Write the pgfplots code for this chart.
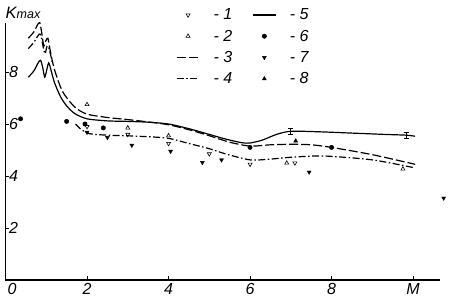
\documentclass[border=0pt]{standalone}
\usepackage{pgfplots}
\pgfplotsset{compat=1.18}
\usepackage{fontspec}
\setmainfont{Liberation Sans}
\begin{document}
\begin{tikzpicture}
\path[use as bounding box] (-5.5pt,-20pt) rectangle (444.5pt,280pt);
\begin{axis}[
  scale only axis, width=434.5pt, height=257.4pt,
  xmin=0, xmax=10.66, ymin=0, ymax=9.9,
  axis lines=left, axis line style={-, line width=1.5pt},
  clip=false,
  xtick={0,2,4,6,8,10},
  xticklabels={\makebox[0pt][l]{\hspace{2pt}0},2,4,6,8,M},
  ytick={2,4,6,8},
  tick align=inside, major tick length=4pt, tick style={line width=1pt, black},
  /pgf/number format/assume math mode=true,
  ticklabel style={font=\fontsize{16}{16}\selectfont\itshape},
  yticklabel style={anchor=west, xshift=0pt},
  ylabel={K{\fontsize{12.5}{12}\selectfont max}},
  ylabel style={rotate=-90, at={(rel axis cs:0,1)}, anchor=base west, yshift=4pt, inner sep=0pt, font=\fontsize{16.5}{16}\selectfont\itshape},
  legend columns=2,
  legend cell align=left,
  legend style={draw=none, fill=none, at={(rel axis cs:0.385,1.07)}, anchor=north west,
    font=\fontsize{16}{16}\selectfont\itshape,
    /tikz/every even column/.append style={column sep=18pt},
    row sep=4.6pt},
  legend image code/.code={\path[draw=none, fill=none] (0pt,0pt) -- (35pt,0pt);\draw[mark repeat=2,mark phase=2,#1] plot coordinates {(0pt,0pt) (11.5pt,0pt) (23pt,0pt)};},
]
\addlegendimage{black, only marks, mark=triangle, mark options={rotate=180, fill=white, line width=0.6pt}, mark size=2.3pt}
\addlegendentry{- 1}
\addlegendimage{black, line width=1.2pt}
\addlegendentry{- 5}
\addlegendimage{black, only marks, mark=triangle, mark options={fill=white, line width=0.6pt}, mark size=2.3pt}
\addlegendentry{- 2}
\addlegendimage{black, only marks, mark=*, mark size=2.2pt}
\addlegendentry{- 6}
\addlegendimage{black, line width=1.2pt, dash pattern=on 9pt off 3pt}
\addlegendentry{- 3}
\addlegendimage{black, only marks, mark=triangle*, mark options={rotate=180}, mark size=2.3pt}
\addlegendentry{- 7}
\addlegendimage{black, line width=1.2pt, dash pattern=on 7pt off 2.5pt on 1.5pt off 2.5pt}
\addlegendentry{- 4}
\addlegendimage{black, only marks, mark=triangle*, mark size=2.3pt}
\addlegendentry{- 8}

% curve 5 (solid)
\addplot[black, line width=1.2pt, smooth, tension=0.45, forget plot] coordinates {
(0.56,7.8) (0.7,8.05) (0.8,8.35) (0.86,8.45) (0.91,8.2) (0.96,7.8) (1.0,8.0) (1.06,8.35) (1.12,8.05) (1.2,7.6) (1.35,7.05) (1.5,6.7) (1.7,6.4) (2.0,6.2) (2.5,6.12) (3.0,6.1) (3.5,6.07) (4.0,6.0) (4.5,5.82) (5.0,5.6) (5.4,5.42) (5.8,5.28) (6.0,5.27) (6.3,5.38) (6.65,5.6) (7.0,5.72) (7.7,5.7) (8.5,5.65) (9.3,5.6) (9.83,5.57) (10.05,5.53)};
% curve 3 (dashed)
\addplot[black, line width=1.2pt, dash pattern=on 9pt off 3pt, smooth, tension=0.45, forget plot] coordinates {
(0.56,9.3) (0.7,9.55) (0.78,9.8) (0.84,9.9) (0.89,9.5) (0.94,9.0) (0.99,9.2) (1.04,9.3) (1.1,8.8) (1.2,8.1) (1.4,7.25) (1.7,6.65) (2.0,6.38) (2.5,6.25) (3.0,6.17) (3.5,6.08) (4.0,5.97) (4.5,5.78) (5.0,5.55) (5.5,5.3) (6.0,5.15) (6.5,5.2) (7.0,5.22) (7.5,5.2) (8.0,5.1) (9.0,4.82) (10.05,4.45)};
% curve 4 (dash-dot), upper part
\addplot[black, line width=1.2pt, dash pattern=on 7pt off 2.5pt on 1.5pt off 2.5pt, smooth, tension=0.45, forget plot] coordinates {
(0.56,8.9) (0.7,9.15) (0.8,9.4) (0.86,9.45) (0.92,9.0) (0.97,8.7) (1.02,9.0) (1.07,8.9) (1.15,8.35)};
% curve 4 (dash-dot), lower part
\addplot[black, line width=1.2pt, dash pattern=on 7pt off 2.5pt on 1.5pt off 2.5pt, smooth, tension=0.45, forget plot] coordinates {
(1.72,6.0) (1.85,5.8) (2.05,5.63) (2.5,5.57) (3.1,5.54) (3.95,5.46) (4.5,5.25) (5.0,5.05) (5.4,4.85) (6.0,4.62) (6.5,4.65) (7.0,4.72) (7.8,4.77) (9.0,4.62) (10.05,4.31)};
% error bars on curve 5
\addplot[black, draw=none, mark=none, forget plot, error bars/.cd, y dir=both, y explicit, error bar style={line width=0.8pt}, error mark options={rotate=90, mark size=2.5pt, line width=0.8pt}] coordinates {
(7.0,5.72) +- (0,0.12) (9.83,5.57) +- (0,0.12)};
% 1: open down triangles
\addplot[black, only marks, mark=triangle, mark options={rotate=180, fill=white, line width=0.6pt}, mark size=2.3pt, forget plot] coordinates {
(2.0,5.9) (3.0,5.6) (4.0,5.25) (5.0,4.85) (6.0,4.45) (7.1,4.5)};
% 2: open up triangles
\addplot[black, only marks, mark=triangle, mark options={fill=white, line width=0.6pt}, mark size=2.3pt, forget plot] coordinates {
(2.0,6.75) (3.0,5.85) (4.0,5.55) (6.9,4.5) (9.75,4.27)};
% 6: filled circles
\addplot[black, only marks, mark=*, mark size=2.2pt, forget plot] coordinates {
(0.37,6.2) (1.5,6.1) (1.95,6.0) (2.4,5.85) (6.0,5.1) (8.0,5.1)};
% 7: filled down triangles
\addplot[black, only marks, mark=triangle*, mark options={rotate=180}, mark size=2.3pt, forget plot] coordinates {
(2.0,5.68) (2.5,5.48) (3.1,5.18) (4.05,4.95) (4.83,4.52) (5.3,4.62) (7.45,4.15) (10.75,3.15)};
% 8: filled up triangles
\addplot[black, only marks, mark=triangle*, mark size=2.3pt, forget plot] coordinates {
(7.12,5.35)};
\end{axis}
\end{tikzpicture}
\end{document}
